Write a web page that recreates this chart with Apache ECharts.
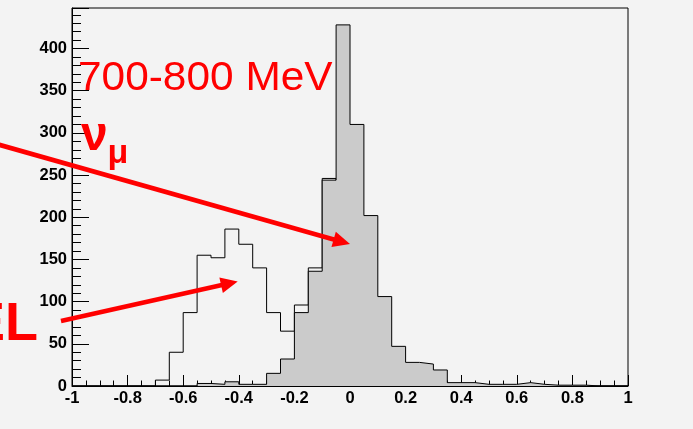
<!DOCTYPE html>
<html>
<head>
<meta charset="utf-8">
<script src="https://cdn.jsdelivr.net/npm/echarts@6/dist/echarts.min.js"></script>
<style>
  html, body { margin: 0; padding: 0; background: #f3f3f3; }
  #chart { width: 693px; height: 429px; }
</style>
</head>
<body>
<div id="chart"></div>
<script>
// Histogram binning: 40 bins of width 0.05 on [-1, 1]
const binStart = -1;
const binWidth = 0.05;

// Open (outline-only) histogram, counts per bin
const elCounts = [
  0, 0, 0, 0, 0, 0, 7, 40, 87, 155,
  152, 186, 168, 140, 87, 65, 96, 140, 246, 0,
  0, 0, 0, 0, 0, 0, 0, 0, 0, 0,
  0, 0, 0, 0, 0, 0, 0, 0, 0, 0
];

// Filled νμ histogram, counts per bin
const numuCounts = [
  0, 0, 0, 0, 0, 0, 0, 0, 0, 3,
  2, 5, 2, 2, 15, 32, 87, 136, 244, 428,
  310, 202, 106, 47, 28, 26, 19, 4, 4, 2,
  2, 2, 4, 2, 1, 1, 1, 0, 0, 0
];

// Axis ranges
const xRange = [-1, 1];
const yRange = [0, 448];

// Turn per-bin counts into step-line points at the bin edges
function stepPoints(counts) {
  const pts = counts.map((v, i) => [+(binStart + i * binWidth).toFixed(2), v]);
  pts.push([xRange[1], counts[counts.length - 1]]);
  return pts;
}

const RED = '#ff0000';
const FONT = '"Liberation Sans", Arial, Helvetica, sans-serif';

// Arrowhead polygon for a straight arrow from p0 to tip
function arrow(p0, tip, headLen, headHalf, width) {
  const dx = tip[0] - p0[0], dy = tip[1] - p0[1];
  const len = Math.hypot(dx, dy);
  const ux = dx / len, uy = dy / len;
  const bx = tip[0] - ux * headLen, by = tip[1] - uy * headLen;
  const px = -uy, py = ux;
  return [
    {
      type: 'line',
      shape: { x1: p0[0], y1: p0[1], x2: bx + ux * 2, y2: by + uy * 2 },
      style: { stroke: RED, lineWidth: width },
      z: 100
    },
    {
      type: 'polygon',
      shape: { points: [tip, [bx + px * headHalf, by + py * headHalf], [bx - px * headHalf, by - py * headHalf]] },
      style: { fill: RED },
      z: 100
    }
  ];
}

const chart = echarts.init(document.getElementById('chart'), null, { renderer: 'canvas' });

const axisLabelStyle = {
  color: '#000',
  fontFamily: FONT,
  fontWeight: 'bold',
  fontSize: 16.5
};

chart.setOption({
  animation: false,
  backgroundColor: '#f3f3f3',
  grid: {
    left: 72, right: 65, top: 8, bottom: 43,
    show: true,
    backgroundColor: '#f3f3f3',
    borderColor: '#000',
    borderWidth: 1
  },
  xAxis: {
    type: 'value',
    min: xRange[0], max: xRange[1], interval: 0.2,
    axisLine: { show: true, onZero: false, lineStyle: { color: '#000', width: 1 } },
    axisTick: { show: true, inside: true, length: 11, lineStyle: { color: '#000', width: 1 } },
    minorTick: { show: true, splitNumber: 4, length: 5.5, lineStyle: { color: '#000', width: 1 } },
    splitLine: { show: false },
    axisLabel: Object.assign({ margin: 4 }, axisLabelStyle)
  },
  yAxis: {
    type: 'value',
    min: yRange[0], max: yRange[1], interval: 50,
    axisLine: { show: true, onZero: false, lineStyle: { color: '#000', width: 1 } },
    axisTick: { show: true, inside: true, length: 17, lineStyle: { color: '#000', width: 1 } },
    minorTick: { show: true, splitNumber: 5, length: 9, lineStyle: { color: '#000', width: 1 } },
    splitLine: { show: false },
    axisLabel: Object.assign({ margin: 5, showMaxLabel: false }, axisLabelStyle)
  },
  series: [
    {
      name: 'EL',
      type: 'line',
      step: 'end',
      symbol: 'none',
      data: stepPoints(elCounts),
      lineStyle: { color: '#000', width: 1 },
      z: 2
    },
    {
      name: 'νμ',
      type: 'line',
      step: 'end',
      symbol: 'none',
      data: stepPoints(numuCounts),
      lineStyle: { color: '#000', width: 1 },
      areaStyle: { color: '#cbcbcb', opacity: 1 },
      z: 3
    }
  ],
  graphic: [
    {
      type: 'text', x: 78, y: 79.3, scaleX: 1.06, z: 100,
      style: { text: '700-800 MeV', fill: RED, font: '40px ' + FONT, verticalAlign: 'middle', align: 'left' }
    },
    {
      type: 'text', x: 81, y: 136.8, z: 100,
      style: { text: 'ν', fill: RED, font: 'bold 48px ' + FONT, verticalAlign: 'middle', align: 'left' }
    },
    {
      type: 'text', x: 107.6, y: 154, z: 100,
      style: { text: 'μ', fill: RED, font: 'bold 34px ' + FONT, verticalAlign: 'middle', align: 'left' }
    },
    {
      type: 'text', x: 38, y: 325, z: 100,
      style: { text: 'EL', fill: RED, font: 'bold 54px ' + FONT, verticalAlign: 'middle', align: 'right' }
    },
    ...arrow([-5, 143.6], [350, 244], 17, 8, 4.6),
    ...arrow([61, 321], [237.7, 281.5], 17, 8, 4.6)
  ]
});
</script>
</body>
</html>
